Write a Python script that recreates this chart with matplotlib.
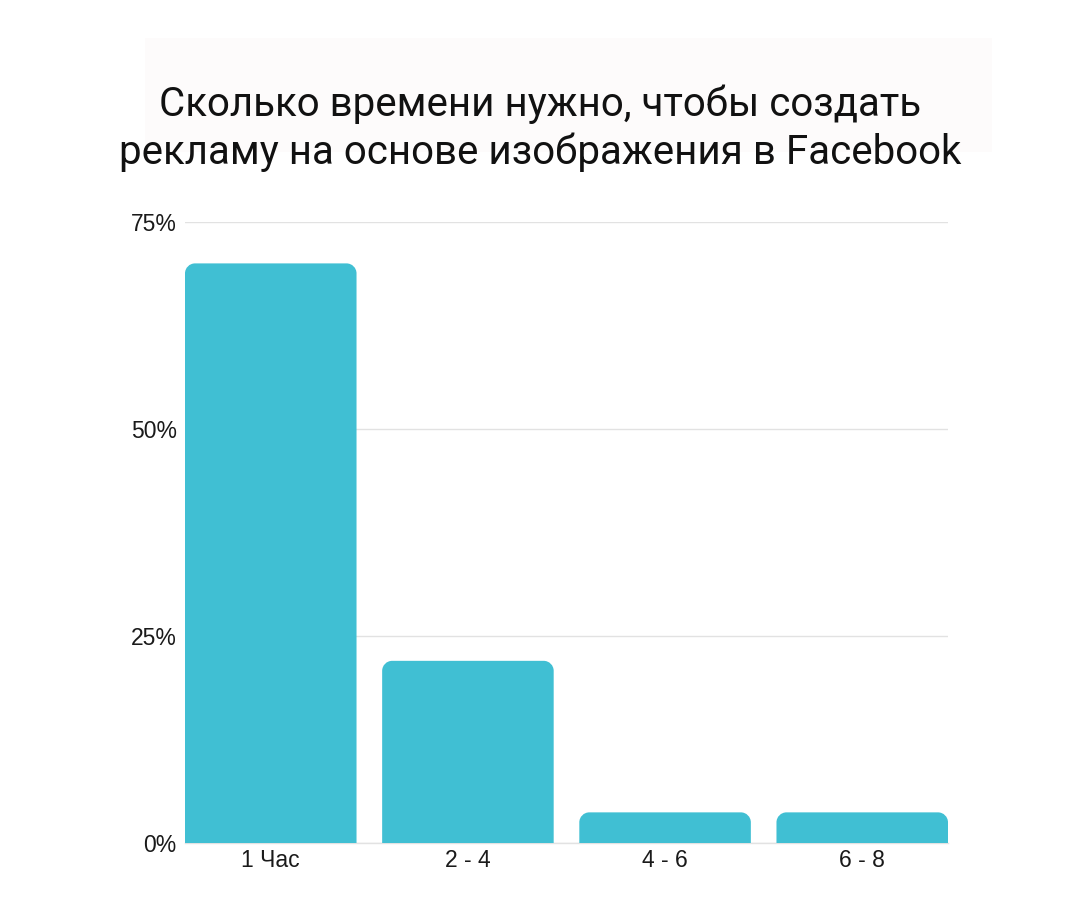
import matplotlib
matplotlib.use("Agg")
import matplotlib.pyplot as plt
from matplotlib.path import Path
from matplotlib.patches import PathPatch, Rectangle
from matplotlib.ticker import FixedLocator

categories = ["1 Час", "2 - 4", "4 - 6", "6 - 8"]
values = [70.0, 22.0, 3.7, 3.7]
y_ticks = [0, 25, 50, 75]
y_tick_labels = ["0%", "25%", "50%", "75%"]
title_text = "Сколько времени нужно, чтобы создать\nрекламу на основе изображения в Facebook"

BAR_COLOR = "#40bfd3"
W, H = 1080, 902
fig = plt.figure(figsize=(W / 100, H / 100), dpi=100)
fig.patch.set_facecolor("white")

# faint panel behind title
fig.add_artist(Rectangle((145 / W, 1 - 152 / H), (992 - 145) / W, (152 - 38) / H,
                         transform=fig.transFigure, facecolor="#fdfbfb",
                         edgecolor="none", zorder=0))

left, right, bottom, top = 185, 948, 843, 222
ax = fig.add_axes([left / W, 1 - bottom / H, (right - left) / W, (bottom - top) / H])
bw = 0.87
x = list(range(len(categories)))
ax.set_xlim(-bw / 2, len(categories) - 1 + bw / 2)
ax.set_ylim(0, 75)

# pixel -> data scale
px_x = (ax.get_xlim()[1] - ax.get_xlim()[0]) / (right - left)
px_y = 75 / (bottom - top)
r = 10
rx, ry = r * px_x, r * px_y
k = 0.5523

bars = ax.bar(x, values, width=bw, color="none", edgecolor="none")
for b in bars:
    x0, y0 = b.get_x(), b.get_y()
    x1, y1 = x0 + b.get_width(), y0 + b.get_height()
    verts = [
        (x0, y0), (x0, y1 - ry),
        (x0, y1 - ry + k * ry), (x0 + rx - k * rx, y1), (x0 + rx, y1),
        (x1 - rx, y1),
        (x1 - rx + k * rx, y1), (x1, y1 - ry + k * ry), (x1, y1 - ry),
        (x1, y0), (x0, y0),
    ]
    codes = [Path.MOVETO, Path.LINETO,
             Path.CURVE4, Path.CURVE4, Path.CURVE4,
             Path.LINETO,
             Path.CURVE4, Path.CURVE4, Path.CURVE4,
             Path.LINETO, Path.CLOSEPOLY]
    ax.add_patch(PathPatch(Path(verts, codes), facecolor=BAR_COLOR,
                           edgecolor="none", zorder=3))

ax.yaxis.set_major_locator(FixedLocator(y_ticks))
ax.set_yticklabels(y_tick_labels, fontsize=16.5, color="#1a1a1a",
                   family=["Liberation Sans", "DejaVu Sans"])
ax.set_xticks(x)
ax.set_xticklabels(categories, fontsize=16.5, color="#1a1a1a",
                   family=["Liberation Sans", "DejaVu Sans"])
ax.tick_params(axis="both", length=0)
ax.tick_params(axis="y", pad=6)
ax.tick_params(axis="x", pad=4)
ax.grid(axis="y", color="#e2e2e2", linewidth=1, zorder=0)
ax.set_axisbelow(True)
for s in ["top", "right", "left"]:
    ax.spines[s].set_visible(False)
ax.spines["bottom"].set_color("#e2e2e2")
ax.spines["bottom"].set_linewidth(1)
ax.patch.set_alpha(0)

fig.text(0.5, 1 - 128 / H, title_text, ha="center", va="center",
         fontsize=29, family=["Roboto", "DejaVu Sans"], color="#111111",
         linespacing=1.27)

fig.savefig("out.png", dpi=100)
